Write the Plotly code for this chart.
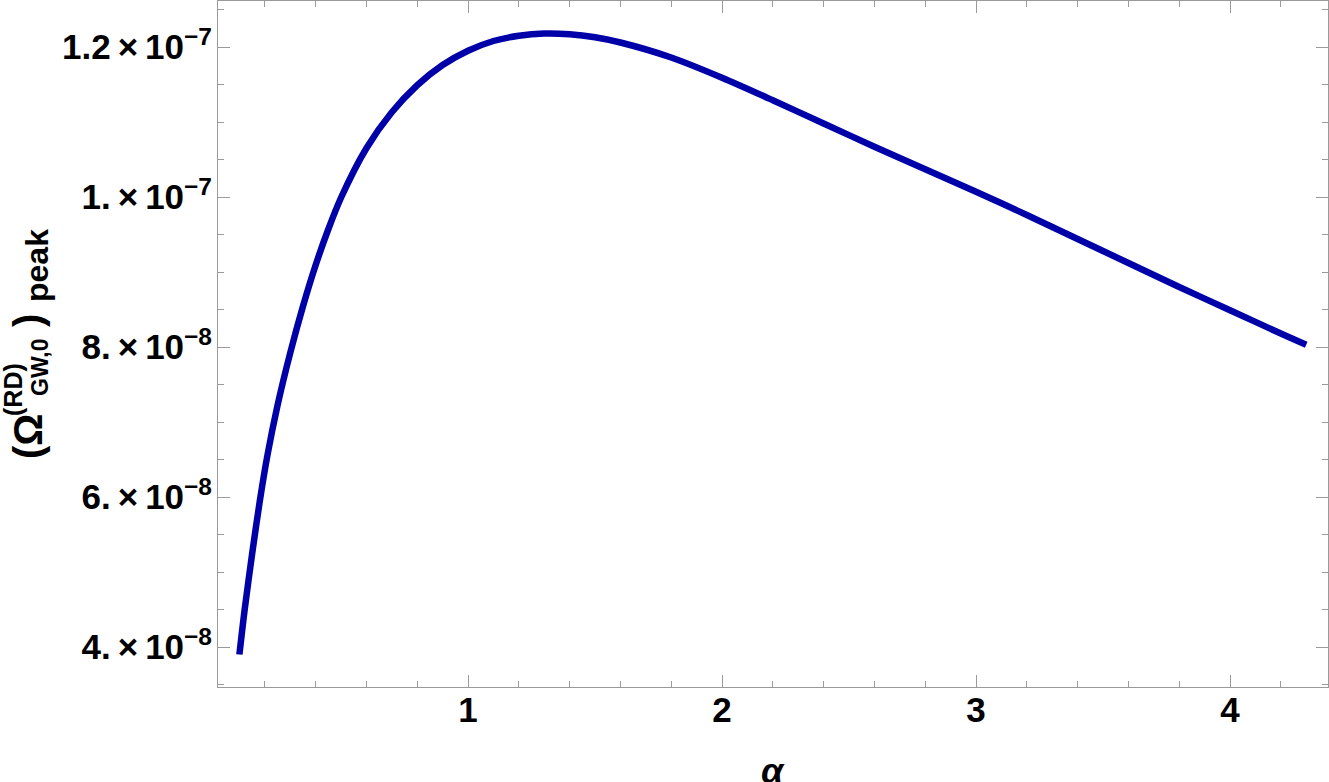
import plotly.graph_objects as go

# values
alpha = [0.10, 0.12, 0.15, 0.18, 0.21, 0.25, 0.30, 0.35, 0.40, 0.45,
         0.50, 0.60, 0.70, 0.80, 0.90, 1.00, 1.10, 1.20, 1.30, 1.40,
         1.50, 1.60, 1.80, 2.00, 2.20, 2.40, 2.60, 2.80, 3.00, 3.20,
         3.40, 3.60, 3.80, 4.00, 4.20, 4.30]
omega_peak = [3.90e-8, 4.48e-8, 5.24e-8, 5.94e-8, 6.55e-8, 7.22e-8, 7.92e-8, 8.54e-8,
              9.09e-8, 9.57e-8, 9.99e-8, 1.065e-7, 1.113e-7, 1.149e-7, 1.176e-7,
              1.195e-7, 1.208e-7, 1.215e-7, 1.218e-7, 1.217e-7, 1.213e-7, 1.206e-7,
              1.186e-7, 1.159e-7, 1.129e-7, 1.098e-7, 1.067e-7, 1.037e-7, 1.007e-7,
              9.76e-8, 9.44e-8, 9.12e-8, 8.80e-8, 8.49e-8, 8.18e-8, 8.03e-8]

x_ticks = [1, 2, 3, 4]
y_ticks = [4e-8, 6e-8, 8e-8, 1e-7, 1.2e-7]
y_ticktext = ["4.\u2009×\u200910<sup>−8</sup>", "6.\u2009×\u200910<sup>−8</sup>",
              "8.\u2009×\u200910<sup>−8</sup>", "1.\u2009×\u200910<sup>−7</sup>",
              "1.2\u2009×\u200910<sup>−7</sup>"]

FONT = "Liberation Sans"
GRAY = "#9a9a9a"

fig = go.Figure()
fig.add_trace(go.Scatter(x=alpha, y=omega_peak, mode="lines",
                         line=dict(color="#0000a8", width=6.5, shape="spline", smoothing=0.8),
                         showlegend=False))

axis_common = dict(showline=True, linecolor=GRAY, linewidth=1, mirror="ticks",
                   ticks="inside", ticklen=12, tickwidth=1, tickcolor=GRAY,
                   showgrid=False, zeroline=False, automargin=False,
                   tickfont=dict(family=FONT, size=35, color="black", weight="bold"))

fig.update_xaxes(range=[0.0157, 4.3858], tickmode="array", tickvals=x_ticks,
                 ticktext=[str(v) for v in x_ticks], ticklabelstandoff=-8,
                 minor=dict(ticks="inside", ticklen=6, dtick=0.2, tick0=0,
                            tickcolor=GRAY, tickwidth=1, showgrid=False),
                 **axis_common)
fig.update_yaxes(range=[3.4667e-8, 1.26133e-7], tickmode="array", tickvals=y_ticks,
                 ticktext=y_ticktext, ticklabelstandoff=-2,
                 minor=dict(ticks="inside", ticklen=6, dtick=0.5e-8, tick0=0,
                            tickcolor=GRAY, tickwidth=1, showgrid=False),
                 **axis_common)

# axis labels, built from pieces so sub/superscripts stack like the original
def px_x(p):
    return (p - 218) / 1110.0

def px_y(p):
    return (687 - p) / 686.0

label_parts = [
    # text, size, screen x centre, screen y centre
    ("(Ω", 40, 28, 437),
    ("(RD)", 25, 13, 390),
    ("GW,0", 23, 40, 367),
    (")", 40, 28, 321),
    ("peak", 32, 37, 266),
]
for txt, size, cx, cy in label_parts:
    fig.add_annotation(text=txt, xref="paper", yref="paper", x=px_x(cx), y=px_y(cy),
                       xanchor="center", yanchor="middle", textangle=-90, showarrow=False,
                       font=dict(family=FONT, size=size, color="black", weight="bold"))

fig.add_annotation(text="<i>α</i>", xref="paper", yref="paper", x=0.5, y=px_y(771),
                   xanchor="center", yanchor="middle", showarrow=False,
                   font=dict(family=FONT, size=36, color="black", weight="bold"))

fig.update_layout(width=1329, height=782, margin=dict(l=218, r=1, t=1, b=95),
                  paper_bgcolor="white", plot_bgcolor="white")

fig.write_html("out.html", config={"displayModeBar": False},
               post_script="document.body.style.margin='0px';")
